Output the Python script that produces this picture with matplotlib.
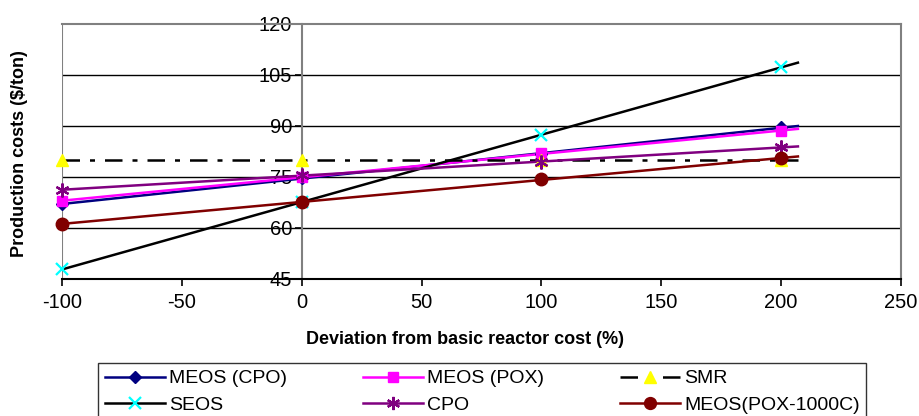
import numpy as np
import matplotlib.pyplot as plt
from matplotlib.lines import Line2D

plt.rcParams['font.family'] = ['Liberation Sans', 'DejaVu Sans']
plt.rcParams['axes.unicode_minus'] = False

# deviation from basic reactor cost (%)
deviation = [-100, 0, 100, 200]

# production costs ($/ton)
meos_cpo = [67.1, 74.6, 81.8, 89.6]
meos_pox = [67.9, 75.0, 82.0, 88.5]
smr = [80.0, 80.0, 80.0, 80.0]
seos = [47.9, 67.5, 87.4, 107.3]
cpo = [71.2, 75.5, 79.5, 83.7]
meos_pox_1000c = [61.2, 67.6, 74.3, 80.5]

labels = ["MEOS (CPO)", "MEOS (POX)", "SMR", "SEOS", "CPO", "MEOS(POX-1000C)"]

# line colour, marker, marker colour, marker size, line dashes
styles = [
    ("#000080", "D", "#000080", 6, None),
    ("#FF00FF", "s", "#FF00FF", 7.5, None),
    ("#000000", "^", "#FFFF00", 9, (7, 4, 2, 4)),
    ("#000000", "x", "#00FFFF", 9, None),
    ("#800080", (6, 2, 0), "#800080", 10, None),
    ("#800000", "o", "#800000", 9, None),
]

series = [meos_cpo, meos_pox, smr, seos, cpo, meos_pox_1000c]

fig = plt.figure(figsize=(9.2, 4.16), dpi=100)
ax = fig.add_axes([62 / 920, 1 - 279 / 416, (901 - 62) / 920, (279 - 24) / 416])

ax.set_xlim(-100, 250)
ax.set_ylim(45, 120)

for yv in [60, 75, 90, 105]:
    ax.axhline(yv, color="black", lw=1.0, zorder=1)

# trendline extends a little past the last point, as in the original
x_end = 207
handles = []
for vals, lab, (lc, mk, mc, ms, dash) in zip(series, labels, styles):
    coef = np.polyfit(deviation, vals, 1)
    xs = np.array([deviation[0], x_end])
    ln, = ax.plot(xs, np.polyval(coef, xs), color=lc, lw=1.8, zorder=3)
    if dash:
        ln.set_dashes(dash)
    mew = 1.6 if mk in ("x",) or isinstance(mk, tuple) else 1.0
    ax.plot(deviation, vals, ls="none", marker=mk, ms=ms, color=mc, mec=mc, mew=mew,
            zorder=4, clip_on=False)
    h = Line2D([], [], color=lc, lw=1.8, marker=mk, ms=ms * 0.95, mfc=mc, mec=mc, mew=mew)
    if dash:
        h.set_dashes(dash)
    handles.append(h)

# frame: y axis sits at x = 0, plot border in gray
for s in ["top", "right"]:
    ax.spines[s].set_color("#808080")
    ax.spines[s].set_linewidth(1.5)
ax.spines["left"].set_position(("data", 0))
ax.spines["left"].set_color("#808080")
ax.spines["left"].set_linewidth(1.5)
ax.spines["bottom"].set_color("black")
ax.spines["bottom"].set_linewidth(1.5)
ax.axvline(-100, color="#808080", lw=1.5, zorder=2)

ax.set_xticks([-100, -50, 0, 50, 100, 150, 200, 250])
ax.set_yticks([45, 60, 75, 90, 105, 120])
ax.tick_params(axis="both", direction="out", length=5, width=1.2, labelsize=14.5, colors="black")
ax.tick_params(axis="y", pad=2)
ax.tick_params(axis="x", pad=5)

fig.text(20 / 920, 1 - 153.5 / 416, "Production costs ($/ton)", rotation=90,
         ha="center", va="center", fontsize=13, fontweight="bold")
fig.text(465 / 920, 1 - 340 / 416, "Deviation from basic reactor cost (%)",
         ha="center", va="center", fontsize=13, fontweight="bold")

# legend fills row by row in the original; matplotlib fills columns
order = [0, 3, 1, 4, 2, 5]
leg = fig.legend([handles[i] for i in order], [labels[i] for i in order], ncol=3,
                 loc="upper left", bbox_to_anchor=(98 / 920, 1 - 363 / 416), fontsize=14,
                 frameon=True, fancybox=False, handlelength=3.1, handletextpad=0.2,
                 columnspacing=3.9, labelspacing=0.45, borderpad=0.35, borderaxespad=0)
leg.get_frame().set_edgecolor("black")
leg.get_frame().set_linewidth(1.0)

fig.savefig("out.png", dpi=100)
